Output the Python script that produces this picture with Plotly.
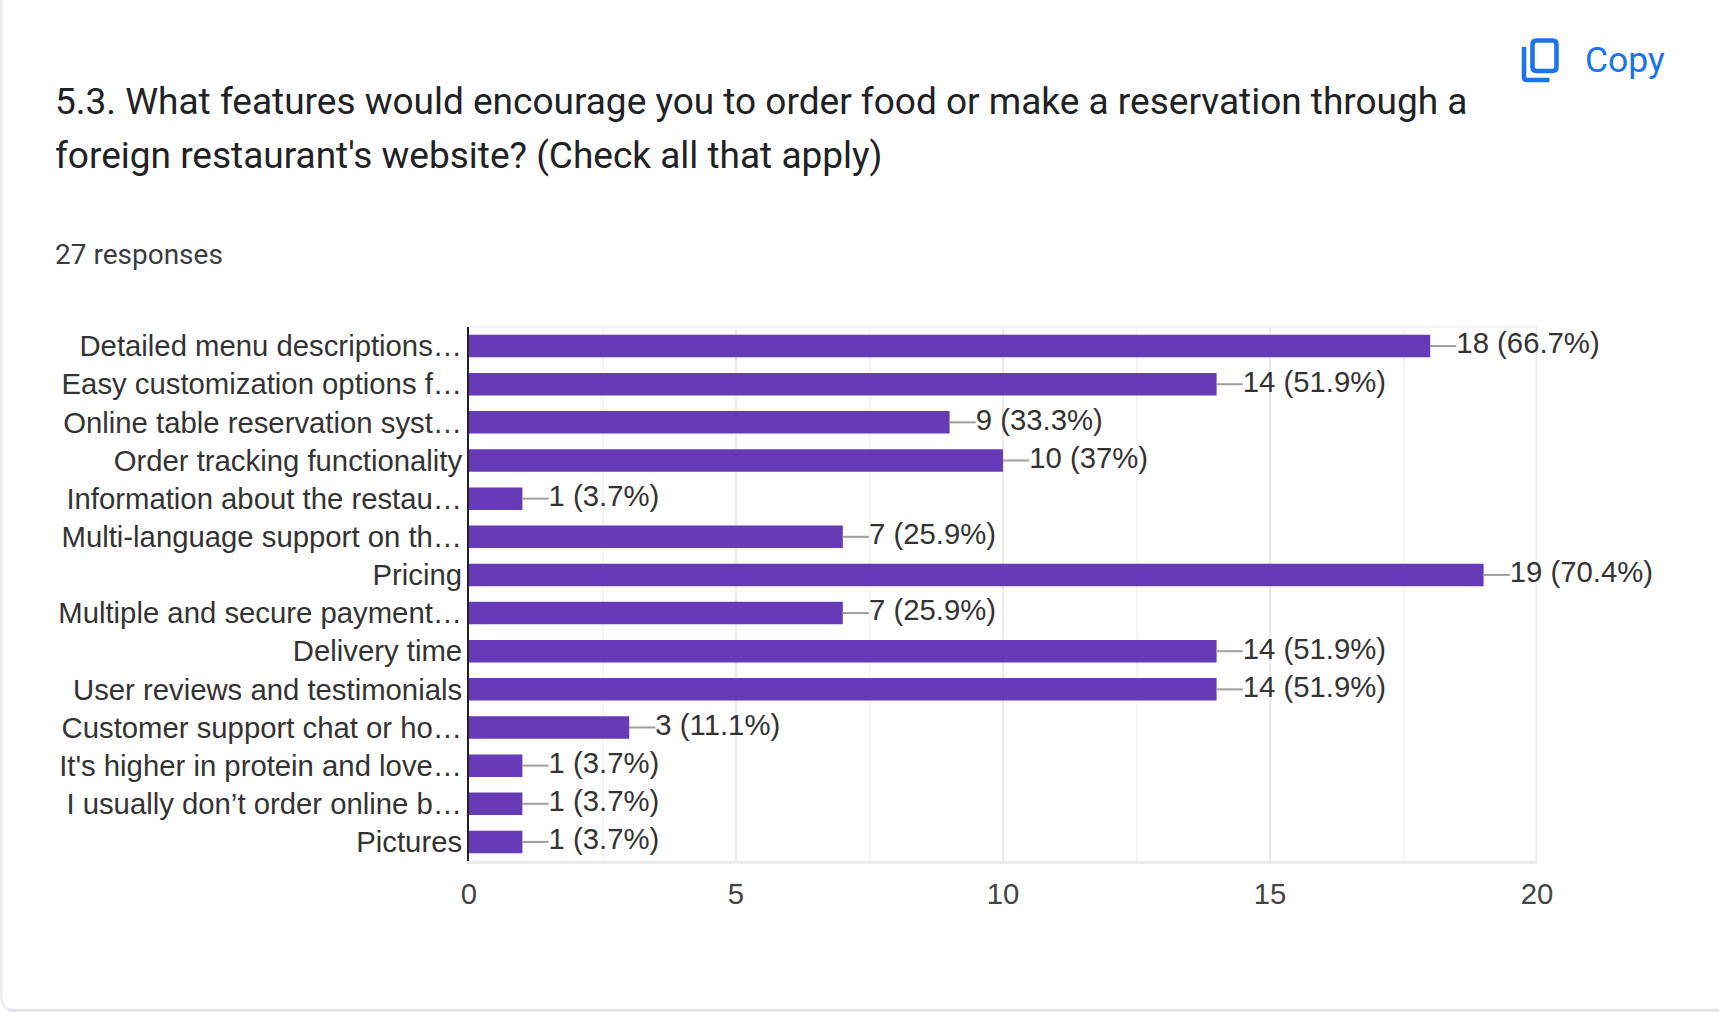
import plotly.graph_objects as go

categories = [
    "Detailed menu descriptions…", "Easy customization options f…", "Online table reservation syst…",
    "Order tracking functionality", "Information about the restau…", "Multi-language support on th…",
    "Pricing", "Multiple and secure payment…", "Delivery time", "User reviews and testimonials",
    "Customer support chat or ho…", "It's higher in protein and love…", "I usually don’t order online b…",
    "Pictures",
]
counts = [18, 14, 9, 10, 1, 7, 19, 7, 14, 14, 3, 1, 1, 1]
percents = ["66.7%", "51.9%", "33.3%", "37%", "3.7%", "25.9%", "70.4%", "25.9%", "51.9%", "51.9%",
            "11.1%", "3.7%", "3.7%", "3.7%"]
x_ticks = [0, 5, 10, 15, 20]

W, H = 1719, 1012
L, R, T, B = 469, 1537.5, 327, 861
LEADER = 0.49
labels = [f"{c} ({p})" for c, p in zip(counts, percents)]

fig = go.Figure()
fig.add_trace(go.Bar(
    y=categories, x=counts, orientation="h", marker=dict(color="#673ab7", line_width=0),
    error_x=dict(type="constant", value=LEADER, valueminus=0, symmetric=False,
                 color="#9e9e9e", thickness=2, width=0),
    hoverinfo="skip", cliponaxis=False,
))
fig.add_trace(go.Scatter(
    y=categories, x=[c + LEADER for c in counts], mode="text", text=labels,
    textposition="middle right", cliponaxis=False,
    textfont=dict(family="Liberation Sans", size=29.3, color="#333333"), hoverinfo="skip",
))

def px(x): return (x - L) / (R - L)
def py(y): return 1 - (y - T) / (B - T)

def note(text, x, y, size, color, family="Roboto"):
    fig.add_annotation(text=text, x=px(x), y=py(y), xref="paper", yref="paper", xanchor="left",
                       yanchor="middle", showarrow=False, borderpad=0, font=dict(family=family, size=size, color=color))

note("5.3. What features would encourage you to order food or make a reservation through a", 54, 101, 37, "#202124")
note("foreign restaurant's website? (Check all that apply)", 54, 155, 37, "#202124")
note("27 responses", 54, 254, 28, "#3a3c3f")
note("Copy", 1585, 60, 35.5, "#1a73e8")

BLUE = "#1a73e8"
def P(pts):
    return " ".join(f"{c} " + " ".join(f"{px(a)} {py(b)}" for a, b in coords) for c, coords in pts)

icon_front = P([("M", [(1537, 40.5)]), ("L", [(1553, 40.5)]), ("Q", [(1557, 40.5), (1557, 44.5)]),
                ("L", [(1557, 67)]), ("Q", [(1557, 71), (1553, 71)]), ("L", [(1537, 71)]),
                ("Q", [(1533, 71), (1533, 67)]), ("L", [(1533, 44.5)]), ("Q", [(1533, 40.5), (1537, 40.5)]), ("Z", [])])
icon_back = P([("M", [(1524.5, 47)]), ("L", [(1524.5, 77)]), ("Q", [(1524.5, 80), (1527.5, 80)]), ("L", [(1550, 80)])])
card = P([("M", [(1, -10)]), ("L", [(1, 996)]), ("Q", [(1, 1010), (15, 1010)]), ("L", [(1730, 1010)]),
          ("L", [(1730, -10)]), ("Z", [])])

shapes = [
    dict(type="path", xref="paper", yref="paper", layer="below", line=dict(color="#e9e9f0", width=2),
         fillcolor="white", path=card),
    dict(type="rect", xref="paper", yref="paper", layer="below", line_width=0, fillcolor="#e2e3ec",
         x0=px(8), x1=px(1730), y0=py(1009), y1=py(1014)),
    dict(type="line", xref="paper", yref="paper", layer="below", line=dict(color="#f2f2f2", width=1.5),
         x0=0, x1=1, y0=1, y1=1),
    dict(type="line", xref="x", yref="paper", layer="below", line=dict(color="#ebebeb", width=3),
         x0=x_ticks[-1], x1=x_ticks[-1], y0=0, y1=1),
    dict(type="path", xref="paper", yref="paper", line=dict(color=BLUE, width=4.5), path=icon_front),
    dict(type="path", xref="paper", yref="paper", line=dict(color=BLUE, width=4.5), path=icon_back),
]

fig.update_layout(
    width=W, height=H, margin=dict(l=L, r=W - R, t=T, b=H - B),
    paper_bgcolor="white", plot_bgcolor="rgba(0,0,0,0)", showlegend=False, bargap=0.41, shapes=shapes,
    font=dict(family="Liberation Sans", color="#333333"),
    xaxis=dict(range=[0, 20], tickvals=x_ticks, ticks="", tickfont=dict(size=29.3, color="#444444"),
               showgrid=True, gridcolor="#ebebeb", gridwidth=2, zeroline=False,
               showline=True, linecolor="#ebebeb", linewidth=3, ticklabelstandoff=5,
               minor=dict(dtick=2.5, showgrid=True, gridcolor="#f5f5f5", gridwidth=1.5, ticks="")),
    yaxis=dict(range=[13.5, -0.5], ticks="", tickfont=dict(size=29.3, color="#333333"), showgrid=False,
               zeroline=False, showline=True, linecolor="#222222", linewidth=2, ticklabelstandoff=-1),
)
fig.write_html("out.html", post_script="document.body.style.margin='0';", config={"displayModeBar": False})
